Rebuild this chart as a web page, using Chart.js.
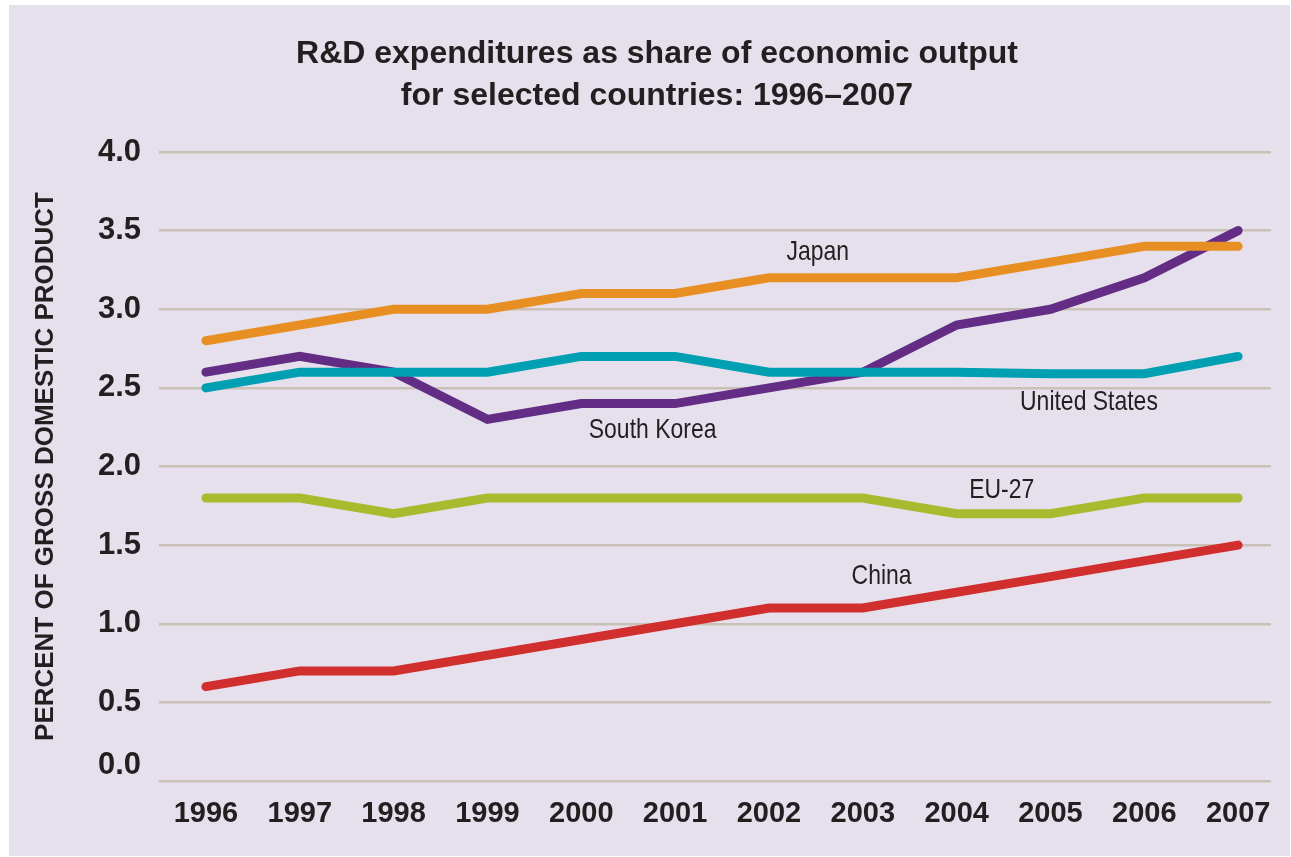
<!DOCTYPE html>
<html>
<head>
<meta charset="utf-8">
<title>R&amp;D expenditures as share of economic output</title>
<script src="https://cdn.jsdelivr.net/npm/chart.js@4.4.1/dist/chart.umd.min.js"></script>
<style>
  html, body { margin: 0; padding: 0; background: #ffffff; overflow: hidden; }
  #wrap { width: 1291px; height: 857px; position: relative; }
</style>
</head>
<body>
<div id="wrap"><canvas id="rdChart" width="1291" height="857"></canvas></div>
<script>
var years = [1996, 1997, 1998, 1999, 2000, 2001, 2002, 2003, 2004, 2005, 2006, 2007];

var japan      = [2.8, 2.9, 3.0, 3.0, 3.1, 3.1, 3.2, 3.2, 3.2, 3.3, 3.4, 3.4];
var southKorea = [2.6, 2.7, 2.6, 2.3, 2.4, 2.4, 2.5, 2.6, 2.9, 3.0, 3.2, 3.5];
var unitedStates = [2.5, 2.6, 2.6, 2.6, 2.7, 2.7, 2.6, 2.6, 2.6, 2.59, 2.59, 2.7];
var eu27       = [1.8, 1.8, 1.7, 1.8, 1.8, 1.8, 1.8, 1.8, 1.7, 1.7, 1.8, 1.8];
var china      = [0.6, 0.7, 0.7, 0.8, 0.9, 1.0, 1.1, 1.1, 1.2, 1.3, 1.4, 1.5];

var yTicks = [0, 0.5, 1.0, 1.5, 2.0, 2.5, 3.0, 3.5, 4.0];

// series label anchors, in data units (year, percent)
var labelNames = ["Japan", "South Korea", "United States", "EU-27", "China"];
var labelYears = [2002.52, 2000.76, 2005.41, 2004.48, 2003.2];
var labelVals  = [3.36, 2.23, 2.41, 1.85, 1.30];

var TEXT = "#231f20";
var SANS = "'Liberation Sans', Arial, sans-serif";

function pairs(vals) {
	return years.map(function (y, i) { return { x: y, y: vals[i] }; });
}

function series(label, vals, color) {
	return {
		label: label,
		data: pairs(vals),
		borderColor: color,
		backgroundColor: color,
		borderWidth: 9,
		borderCapStyle: "round",
		borderJoinStyle: "miter",
		pointRadius: 0,
		pointHoverRadius: 0,
		tension: 0,
		fill: false
	};
}

var backdrop = {
	id: "backdrop",
	beforeDraw: function (chart) {
		var ctx = chart.ctx;
		ctx.save();
		ctx.fillStyle = "#ffffff";
		ctx.fillRect(0, 0, chart.width, chart.height);
		ctx.fillStyle = "#e6e0ec";
		ctx.fillRect(9, 5, chart.width - 10, chart.height - 6);
		ctx.restore();
	}
};

var seriesLabels = {
	id: "seriesLabels",
	afterDatasetsDraw: function (chart) {
		var ctx = chart.ctx, xs = chart.scales.x, ys = chart.scales.y;
		ctx.save();
		ctx.fillStyle = TEXT;
		ctx.font = "28px 'Liberation Sans Narrow', 'Liberation Sans', sans-serif";
		ctx.textAlign = "center";
		ctx.textBaseline = "middle";
		labelNames.forEach(function (name, i) {
			ctx.save();
			ctx.translate(xs.getPixelForValue(labelYears[i]), ys.getPixelForValue(labelVals[i]));
			ctx.scale(0.82, 1); // condensed look of the original face
			ctx.fillText(name, 0, 0);
			ctx.restore();
		});
		// the zero label sits a little above its grid line in the original
		ctx.font = "bold 31px " + SANS;
		ctx.textAlign = "right";
		ctx.fillText("0.0", chart.chartArea.left - 18, ys.getPixelForValue(0) - 16);
		ctx.restore();
	}
};

var chart = new Chart(document.getElementById("rdChart"), {
	type: "line",
	data: {
		datasets: [
			series("Japan", japan, "#e88f24"),
			series("United States", unitedStates, "#009fb1"),
			series("South Korea", southKorea, "#632c85"),
			series("EU-27", eu27, "#a6bb2e"),
			series("China", china, "#d12e2e")
		]
	},
	options: {
		responsive: false,
		animation: false,
		events: [],
		layout: { padding: { left: 23, right: 0, top: 0, bottom: 0 } },
		plugins: {
			legend: { display: false },
			tooltip: { enabled: false },
			title: {
				display: true,
				text: ["R&D expenditures as share of economic output", "for selected countries: 1996\u20132007"],
				color: TEXT,
				font: { family: SANS, size: 32, weight: "bold", lineHeight: 1.3125 },
				padding: { top: 33, bottom: 35 }
			}
		},
		scales: {
			x: {
				type: "linear",
				min: 1995.5,
				max: 2007.35,
				afterBuildTicks: function (scale) {
					scale.ticks = years.map(function (y) { return { value: y }; });
				},
				afterFit: function (scale) { scale.height = 76; },
				grid: { display: false, drawTicks: false },
				border: { display: false },
				ticks: {
					autoSkip: false,
					maxRotation: 0,
					padding: 16,
					color: TEXT,
					font: { family: SANS, size: 29, weight: "bold" },
					callback: function (v) { return String(v); }
				}
			},
			y: {
				min: 0,
				max: 4,
				afterBuildTicks: function (scale) {
					scale.ticks = yTicks.map(function (v) { return { value: v }; });
				},
				afterFit: function (scale) { scale.width = 136; },
				grid: { color: "#c9c0b6", lineWidth: 2.5, drawTicks: false },
				border: { display: false },
				ticks: {
					padding: 18,
					color: TEXT,
					font: { family: SANS, size: 31, weight: "bold" },
					callback: function (v) { return v === 0 ? "" : v.toFixed(1); }
				},
				title: {
					display: true,
					text: "PERCENT OF GROSS DOMESTIC PRODUCT",
					color: TEXT,
					font: { family: SANS, size: 26, weight: "bold", lineHeight: 1.2 },
					padding: { top: 7, bottom: 0 }
				}
			},
			// empty right margin so the plot ends where the original does
			yRight: {
				position: "right",
				display: true,
				min: 0,
				max: 4,
				afterFit: function (scale) { scale.width = 20; },
				grid: { display: false, drawTicks: false },
				border: { display: false },
				ticks: { display: false }
			}
		}
	},
	plugins: [backdrop, seriesLabels]
});
</script>
</body>
</html>
